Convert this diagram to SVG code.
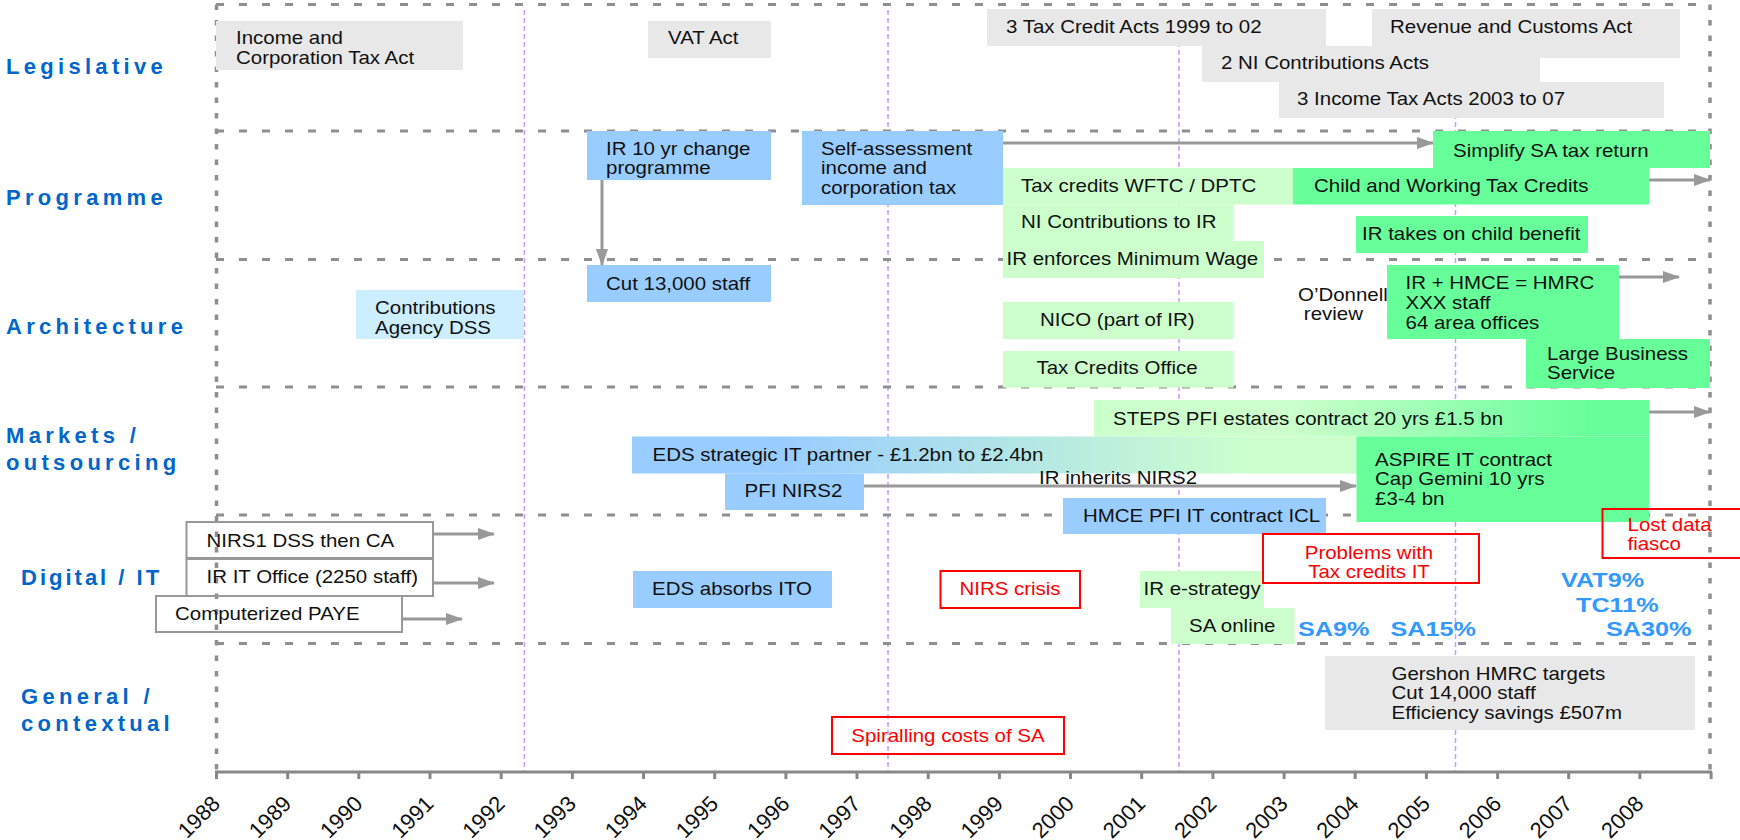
<svg xmlns="http://www.w3.org/2000/svg" width="1740" height="840" viewBox="0 0 1740 840">
<style>
.t{font-family:"Liberation Sans",Arial,sans-serif;font-size:17.5px;fill:#111}
.r{font-family:"Liberation Sans",Arial,sans-serif;font-size:17.5px;fill:#ff0000;text-anchor:middle}
.lab{font-family:"Liberation Sans",Arial,sans-serif;font-size:22px;font-weight:bold;fill:#0066cc;letter-spacing:4.3px}
.pc{font-family:"Liberation Sans",Arial,sans-serif;font-size:21px;font-weight:bold;fill:#3399ff}
.yr{font-family:"Liberation Sans",Arial,sans-serif;font-size:22px;fill:#111;text-anchor:end}
.gray{fill:#e8e8e8}
.blue{fill:#99ccff}
.lblue{fill:#cceeff}
.lgreen{fill:#ccffcc}
.green{fill:#66ff99}
.wbox{fill:none;stroke:#999;stroke-width:2}
.rbox{fill:none;stroke:#ff0000;stroke-width:2}
.hd{stroke:#8f8f8f;stroke-width:3;stroke-dasharray:8 15;fill:none}
.vd{stroke:#8f8f8f;stroke-width:3.5;stroke-dasharray:5.5 10;fill:none}
.pd{stroke:#cc99ff;stroke-width:1.5;stroke-dasharray:5 3;fill:none}
.ar{stroke:#999;stroke-width:3;fill:none;marker-end:url(#ah)}
</style>
<defs>
<marker id="ah" markerUnits="userSpaceOnUse" markerWidth="17" markerHeight="12" refX="16" refY="6" orient="auto">
<path d="M0,0 L17,6 L0,12 z" fill="#999"/>
</marker>
<linearGradient id="gEDS" x1="0" y1="0" x2="1" y2="0">
<stop offset="0.2" stop-color="#99ccff"/>
<stop offset="0.85" stop-color="#ccffcc"/>
</linearGradient>
<linearGradient id="gSTEPS" x1="0" y1="0" x2="1" y2="0">
<stop offset="0.35" stop-color="#ccffcc"/>
<stop offset="0.9" stop-color="#66ff99"/>
</linearGradient>
</defs>
<rect width="1740" height="840" fill="#fff"/>

<g id="grid">
<path class="pd" d="M524.4,10V772 M888,10V772 M1179,10V772 M1455.5,10V772"/>
<path class="hd" d="M216,4.5H1710 M216,131H1710 M216,259.5H1710 M216,387H1710 M216,515H1710 M216,643.5H1710"/>
<path class="vd" d="M216.5,4.5V772 M1710,4.5V772"/>
</g>

<g id="axis">
<line x1="215" y1="772" x2="1712" y2="772" stroke="#888" stroke-width="3"/>
<path stroke="#888" stroke-width="3" d="M216.5,772v7 M287.7,772v7 M358.8,772v7 M430,772v7 M501.2,772v7 M572.4,772v7 M643.5,772v7 M714.7,772v7 M785.9,772v7 M857,772v7 M928.2,772v7 M999.4,772v7 M1070.5,772v7 M1141.7,772v7 M1212.9,772v7 M1284.1,772v7 M1355.2,772v7 M1426.4,772v7 M1497.6,772v7 M1568.7,772v7 M1639.9,772v7 M1711.1,772v7"/>
<text class="yr" transform="translate(221.5,805) rotate(-45)">1988</text>
<text class="yr" transform="translate(292.7,805) rotate(-45)">1989</text>
<text class="yr" transform="translate(363.8,805) rotate(-45)">1990</text>
<text class="yr" transform="translate(435,805) rotate(-45)">1991</text>
<text class="yr" transform="translate(506.2,805) rotate(-45)">1992</text>
<text class="yr" transform="translate(577.4,805) rotate(-45)">1993</text>
<text class="yr" transform="translate(648.5,805) rotate(-45)">1994</text>
<text class="yr" transform="translate(719.7,805) rotate(-45)">1995</text>
<text class="yr" transform="translate(790.9,805) rotate(-45)">1996</text>
<text class="yr" transform="translate(862,805) rotate(-45)">1997</text>
<text class="yr" transform="translate(933.2,805) rotate(-45)">1998</text>
<text class="yr" transform="translate(1004.4,805) rotate(-45)">1999</text>
<text class="yr" transform="translate(1075.5,805) rotate(-45)">2000</text>
<text class="yr" transform="translate(1146.7,805) rotate(-45)">2001</text>
<text class="yr" transform="translate(1217.9,805) rotate(-45)">2002</text>
<text class="yr" transform="translate(1289.1,805) rotate(-45)">2003</text>
<text class="yr" transform="translate(1360.2,805) rotate(-45)">2004</text>
<text class="yr" transform="translate(1431.4,805) rotate(-45)">2005</text>
<text class="yr" transform="translate(1502.6,805) rotate(-45)">2006</text>
<text class="yr" transform="translate(1573.7,805) rotate(-45)">2007</text>
<text class="yr" transform="translate(1644.9,805) rotate(-45)">2008</text>
</g>

<g id="row-labels">
<text class="lab" x="6" y="74">Legislative</text>
<text class="lab" x="6" y="205">Programme</text>
<text class="lab" x="6" y="334">Architecture</text>
<text class="lab" x="6" y="443">Markets /</text>
<text class="lab" x="6" y="470">outsourcing</text>
<text class="lab" x="21" y="585" style="letter-spacing:3px">Digital / IT</text>
<text class="lab" x="21" y="704">General /</text>
<text class="lab" x="21" y="731">contextual</text>
</g>

<g id="n-income-corp-tax-act"><rect class="gray" x="216" y="21" width="247" height="49"/>
<text class="t" transform="matrix(1.17 0 0 1 236 44)"><tspan x="0">Income and</tspan><tspan x="0" dy="20">Corporation Tax Act</tspan></text></g>
<g id="n-vat-act"><rect class="gray" x="648" y="21" width="123" height="37"/>
<text class="t" transform="matrix(1.17 0 0 1 668 44)">VAT Act</text></g>
<g id="n-tax-credit-acts"><rect class="gray" x="987" y="9" width="339" height="37"/>
<text class="t" transform="matrix(1.17 0 0 1 1006 33)">3 Tax Credit Acts 1999 to 02</text></g>
<g id="n-revenue-customs-act"><rect class="gray" x="1372" y="9" width="308" height="49"/>
<text class="t" transform="matrix(1.17 0 0 1 1390 33)">Revenue and Customs Act</text></g>
<g id="n-ni-acts"><rect class="gray" x="1202" y="46" width="338" height="36"/>
<text class="t" transform="matrix(1.17 0 0 1 1221 69)">2 NI Contributions Acts</text></g>
<g id="n-income-tax-acts"><rect class="gray" x="1279" y="82" width="385" height="36"/>
<text class="t" transform="matrix(1.17 0 0 1 1297 105)">3 Income Tax Acts 2003 to 07</text></g>

<g id="n-ir10"><rect class="blue" x="587" y="131" width="184" height="49"/>
<text class="t" transform="matrix(1.17 0 0 1 606 155)"><tspan x="0">IR 10 yr change</tspan><tspan x="0" dy="19.5">programme</tspan></text></g>
<g id="n-self-assessment"><rect class="blue" x="802" y="131" width="201" height="74"/>
<text class="t" transform="matrix(1.17 0 0 1 821 155)"><tspan x="0">Self-assessment</tspan><tspan x="0" dy="19.5">income and</tspan><tspan x="0" dy="19.5">corporation tax</tspan></text></g>
<g id="n-simplify-sa"><rect class="green" x="1433" y="131" width="277" height="37"/>
<text class="t" transform="matrix(1.17 0 0 1 1453 157)">Simplify SA tax return</text></g>
<g id="n-wftc"><rect class="lgreen" x="1003" y="168" width="290" height="36.5"/>
<text class="t" transform="matrix(1.17 0 0 1 1021 192)">Tax credits WFTC / DPTC</text></g>
<g id="n-cwtc"><rect class="green" x="1293" y="168" width="356" height="36.5"/>
<text class="t" transform="matrix(1.17 0 0 1 1314 192)">Child and Working Tax Credits</text></g>
<g id="n-ni-to-ir"><rect class="lgreen" x="1003" y="204.5" width="230.5" height="36.5"/>
<text class="t" transform="matrix(1.17 0 0 1 1021 228)">NI Contributions to IR</text></g>
<g id="n-child-benefit"><rect class="green" x="1356" y="216" width="232" height="37"/>
<text class="t" transform="matrix(1.17 0 0 1 1362 240)">IR takes on child benefit</text></g>
<g id="n-min-wage"><rect class="lgreen" x="1003" y="241" width="261" height="37"/>
<text class="t" transform="matrix(1.17 0 0 1 1006.5 265)">IR enforces Minimum Wage</text></g>

<g id="n-cut-13000"><rect class="blue" x="587" y="265" width="184" height="37"/>
<text class="t" transform="matrix(1.17 0 0 1 606 290)">Cut 13,000 staff</text></g>
<g id="n-contrib-agency"><rect class="lblue" x="356" y="290" width="168" height="49"/>
<text class="t" transform="matrix(1.17 0 0 1 375 314)"><tspan x="0">Contributions</tspan><tspan x="0" dy="20">Agency DSS</tspan></text></g>
<g id="n-nico"><rect class="lgreen" x="1003" y="302" width="230.5" height="37"/>
<text class="t" transform="matrix(1.17 0 0 1 1040 326)">NICO (part of IR)</text></g>
<g id="n-tco"><rect class="lgreen" x="1003" y="351" width="230.5" height="36.5"/>
<text class="t" transform="matrix(1.17 0 0 1 1036.5 374)">Tax Credits Office</text></g>
<g id="n-odonnell">
<text class="t" transform="matrix(1.17 0 0 1 1298 301)"><tspan x="0">O’Donnell</tspan><tspan x="5" dy="19.5">review</tspan></text></g>
<g id="n-hmrc"><rect class="green" x="1387" y="265" width="232" height="74"/>
<text class="t" transform="matrix(1.17 0 0 1 1405.5 289)"><tspan x="0">IR + HMCE = HMRC</tspan><tspan x="0" dy="20">XXX staff</tspan><tspan x="0" dy="20">64 area offices</tspan></text></g>
<g id="n-lbs"><rect class="green" x="1526" y="339" width="184" height="49"/>
<text class="t" transform="matrix(1.17 0 0 1 1547 360)"><tspan x="0">Large Business</tspan><tspan x="0" dy="19.5">Service</tspan></text></g>

<g id="n-steps"><rect fill="url(#gSTEPS)" x="1094" y="400" width="555" height="36.5"/>
<text class="t" transform="matrix(1.17 0 0 1 1113 425)">STEPS PFI estates contract 20 yrs £1.5 bn</text></g>
<g id="n-eds-partner"><rect fill="url(#gEDS)" x="632" y="436.5" width="725" height="37"/>
<text class="t" transform="matrix(1.17 0 0 1 652.5 461)">EDS strategic IT partner - £1.2bn to £2.4bn</text></g>
<g id="n-pfi-nirs2"><rect class="blue" x="725" y="473.5" width="139" height="36.5"/>
<text class="t" transform="matrix(1.17 0 0 1 744.5 497)">PFI NIRS2</text></g>
<g id="n-hmce-icl"><rect class="blue" x="1063" y="498" width="263" height="36"/>
<text class="t" transform="matrix(1.17 0 0 1 1083 522)">HMCE PFI IT contract ICL</text></g>
<g id="n-aspire"><rect class="green" x="1356.5" y="436.5" width="292.5" height="85.5"/>
<text class="t" transform="matrix(1.17 0 0 1 1375 466)"><tspan x="0">ASPIRE IT contract</tspan><tspan x="0" dy="19.5">Cap Gemini 10 yrs</tspan><tspan x="0" dy="19.5">£3-4 bn</tspan></text></g>

<g id="n-nirs1"><rect class="wbox" x="186.5" y="522" width="246.5" height="36"/>
<text class="t" transform="matrix(1.17 0 0 1 206.5 547)">NIRS1 DSS then CA</text></g>
<g id="n-ir-it-office"><rect class="wbox" x="186.5" y="559" width="246.5" height="37"/>
<text class="t" transform="matrix(1.17 0 0 1 206.5 583)">IR IT Office (2250 staff)</text></g>
<g id="n-paye"><rect class="wbox" x="156" y="596" width="246" height="36"/>
<text class="t" transform="matrix(1.17 0 0 1 175 620)">Computerized PAYE</text></g>
<g id="n-eds-ito"><rect class="blue" x="633" y="571" width="199" height="37"/>
<text class="t" transform="matrix(1.17 0 0 1 652 595)">EDS absorbs ITO</text></g>
<g id="n-nirs-crisis"><rect class="rbox" x="940.5" y="571" width="139.5" height="37"/>
<text class="r" transform="matrix(1.17 0 0 1 1010 595)">NIRS crisis</text></g>
<g id="n-e-strategy"><rect class="lgreen" x="1140" y="571" width="124" height="37"/>
<text class="t" transform="matrix(1.17 0 0 1 1143.6 595)">IR e-strategy</text></g>
<g id="n-sa-online"><rect class="lgreen" x="1171" y="608" width="123.5" height="36"/>
<text class="t" transform="matrix(1.17 0 0 1 1189 632)">SA online</text></g>
<g id="n-tc-problems"><rect class="rbox" x="1263" y="534" width="216" height="49"/>
<text class="r" transform="matrix(1.17 0 0 1 1369 559)"><tspan x="0">Problems with</tspan><tspan x="0" dy="19.5">Tax credits IT</tspan></text></g>
<g id="n-lost-data"><rect class="rbox" x="1602.5" y="509" width="145" height="49"/>
<text class="r" style="text-anchor:start" transform="matrix(1.17 0 0 1 1627.5 531)"><tspan x="0">Lost data</tspan><tspan x="0" dy="19.5">fiasco</tspan></text></g>
<g id="n-percentages">
<text class="pc" transform="matrix(1.2 0 0 1 1298 636)">SA9%</text>
<text class="pc" transform="matrix(1.2 0 0 1 1390.5 636)">SA15%</text>
<text class="pc" transform="matrix(1.2 0 0 1 1561 587)">VAT9%</text>
<text class="pc" transform="matrix(1.2 0 0 1 1576 612)">TC11%</text>
<text class="pc" transform="matrix(1.2 0 0 1 1606 636)">SA30%</text>
</g>

<g id="n-gershon"><rect class="gray" x="1325" y="656" width="370" height="74"/>
<text class="t" transform="matrix(1.17 0 0 1 1391.5 680)"><tspan x="0">Gershon HMRC targets</tspan><tspan x="0" dy="19.5">Cut 14,000 staff</tspan><tspan x="0" dy="19.5">Efficiency savings £507m</tspan></text></g>
<g id="n-spiralling"><rect class="rbox" x="832" y="717" width="232" height="37"/>
<text class="r" transform="matrix(1.17 0 0 1 948 742)">Spiralling costs of SA</text></g>

<g id="connectors">
<line class="ar" x1="1003" y1="143" x2="1433" y2="143"/>
<line class="ar" x1="1649" y1="180" x2="1710" y2="180"/>
<line class="ar" x1="602" y1="180" x2="602" y2="265"/>
<line class="ar" x1="1619" y1="277" x2="1679" y2="277"/>
<line class="ar" x1="1649" y1="412" x2="1710" y2="412"/>
<line class="ar" x1="864" y1="486" x2="1356" y2="486"/>
<line class="ar" x1="433" y1="534" x2="494" y2="534"/>
<line class="ar" x1="433" y1="583" x2="494" y2="583"/>
<line class="ar" x1="402" y1="619" x2="462" y2="619"/>
<text class="t" transform="matrix(1.17 0 0 1 1039 484)">IR inherits NIRS2</text>
</g>
</svg>
